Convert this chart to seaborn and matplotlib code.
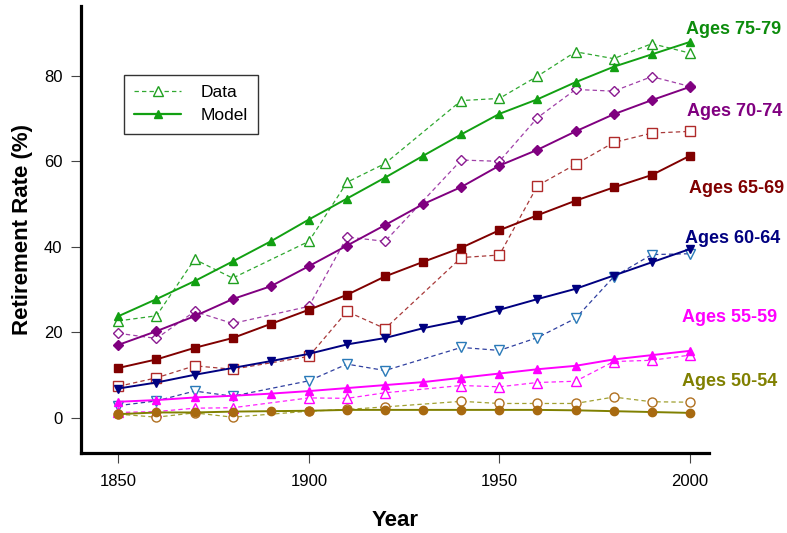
import matplotlib
matplotlib.use("Agg")
import matplotlib.pyplot as plt
from matplotlib.lines import Line2D
import seaborn as sns

# Census decades for the fitted model and years with observed data
years = [1850, 1860, 1870, 1880, 1890, 1900, 1910, 1920,
         1930, 1940, 1950, 1960, 1970, 1980, 1990, 2000]
data_years = [1850, 1860, 1870, 1880, 1900, 1910, 1920,
              1940, 1950, 1960, 1970, 1980, 1990, 2000]

# Retirement rate (%) by age group: model fit
model_75_79 = [23.8, 27.8, 32.0, 36.6, 41.3, 46.4, 51.3, 56.2, 61.3, 66.3, 71.1, 74.5, 78.5, 82.1, 85.0, 87.9]
model_70_74 = [17.1, 20.3, 23.8, 27.8, 30.8, 35.5, 40.3, 45.1, 50.0, 54.0, 59.0, 62.7, 67.0, 71.0, 74.3, 77.4]
model_65_69 = [11.7, 13.7, 16.4, 18.7, 22.0, 25.3, 28.8, 33.1, 36.5, 39.8, 43.9, 47.4, 50.8, 53.9, 56.8, 61.3]
model_60_64 = [6.9, 8.3, 10.1, 11.7, 13.3, 15.0, 17.2, 18.7, 21.0, 22.8, 25.3, 27.8, 30.2, 33.3, 36.4, 39.5]
model_55_59 = [3.8, 4.2, 4.8, 5.2, 5.7, 6.3, 7.0, 7.7, 8.4, 9.4, 10.4, 11.4, 12.2, 13.7, 14.7, 15.7]
model_50_54 = [0.9, 1.3, 1.3, 1.5, 1.6, 1.7, 1.9, 1.9, 1.9, 1.9, 1.9, 1.9, 1.8, 1.6, 1.4, 1.2]

# Retirement rate (%) by age group: observed data
data_75_79 = [22.7, 23.9, 37.1, 32.7, 41.3, 55.1, 59.5, 74.2, 74.7, 79.9, 85.6, 84.0, 87.5, 85.3]
data_70_74 = [19.8, 18.6, 24.9, 22.1, 26.1, 42.3, 41.3, 60.3, 60.0, 70.2, 76.8, 76.4, 79.8, 77.5]
data_65_69 = [7.4, 9.4, 12.2, 11.4, 14.4, 24.9, 20.9, 37.5, 38.1, 54.3, 59.3, 64.4, 66.6, 67.0]
data_60_64 = [2.9, 4.0, 6.3, 5.1, 8.7, 12.6, 11.1, 16.5, 15.8, 18.8, 23.3, 33.0, 38.2, 38.4]
data_55_59 = [1.3, 1.5, 2.3, 2.4, 4.7, 4.6, 5.9, 7.6, 7.3, 8.3, 8.6, 13.2, 13.5, 14.7]
data_50_54 = [0.9, 0.2, 1.2, 0.2, 1.6, 2.0, 2.6, 3.9, 3.4, 3.4, 3.4, 4.9, 3.8, 3.7]

group_labels = ["Ages 75-79", "Ages 70-74", "Ages 65-69",
                "Ages 60-64", "Ages 55-59", "Ages 50-54"]

sns.set_theme(style="ticks")
plt.rcParams["font.family"] = ["Liberation Sans", "DejaVu Sans"]
plt.rcParams["text.color"] = "black"
plt.rcParams["axes.labelcolor"] = "black"

# (model, data, marker, model line, model marker, data line, data marker, label colour, label pos)
series = [
    (model_75_79, data_75_79, "^", "#12a012", "#12a012", "#30a830", "#20a020", "#0c8c0c", (1998.9, 90.9)),
    (model_70_74, data_70_74, "D", "#800080", "#800080", "#a040a8", "#8a1a90", "#800080", (1999.3, 71.7)),
    (model_65_69, data_65_69, "s", "#800000", "#800000", "#a83a3a", "#b02a2a", "#800000", (1999.8, 53.7)),
    (model_60_64, data_60_64, "v", "#000080", "#000080", "#3040a0", "#2a7ab8", "#000080", (1998.6, 42.0)),
    (model_55_59, data_55_59, "^", "#ff00ff", "#ff00ff", "#ff20ff", "#ff00ff", "#ff00ff", (1998.0, 23.5)),
    (model_50_54, data_50_54, "o", "#808000", "#a86a10", "#a0a030", "#b07020", "#808000", (1998.0, 8.5)),
]

fig = plt.figure(figsize=(7.87, 5.33), dpi=100)
ax = fig.add_axes([0.1025, 0.1495, 0.7988, 0.8392])

for (model, data, mk, mline, mmark, dline, dmark, lcol, pos), label in zip(series, group_labels):
    msize = 5.0 if mk == "D" else 6.0
    sns.lineplot(x=data_years, y=data, ax=ax, color=dline, linewidth=0.9,
                 linestyle=(0, (3.5, 2.5)), marker=mk, markersize=msize + 0.5,
                 markerfacecolor="white", markeredgecolor=dmark,
                 markeredgewidth=1.0, zorder=2)
    sns.lineplot(x=years, y=model, ax=ax, color=mline, linewidth=1.4,
                 marker=mk, markersize=msize, markerfacecolor=mmark,
                 markeredgecolor=mmark, markeredgewidth=1.0, zorder=3)
    ax.text(pos[0], pos[1], label, color=lcol, fontsize=13, fontweight="bold",
            ha="left", va="center", clip_on=False)

ax.set_xlim(1840.1, 2005.1)
ax.set_ylim(-8.25, 96.3)
ax.set_xticks([1850, 1900, 1950, 2000])
ax.set_yticks([0, 20, 40, 60, 80])

for side in ("top", "right"):
    ax.spines[side].set_visible(False)
for side in ("left", "bottom"):
    ax.spines[side].set_linewidth(2.3)
    ax.spines[side].set_color("black")

ax.tick_params(axis="both", direction="out", length=7, width=0.8,
               color="#444444", labelsize=12, labelcolor="black")
ax.tick_params(axis="y", pad=6)
ax.tick_params(axis="x", pad=8)

ax.set_xlabel("Year", fontsize=16, fontweight="bold", labelpad=15)
ax.set_ylabel("Retirement Rate (%)", fontsize=16, fontweight="bold", labelpad=8)

handles = [
    Line2D([], [], color="#30a830", linewidth=0.9, linestyle=(0, (3.5, 2.5)),
           marker="^", markersize=6.5, markerfacecolor="white",
           markeredgecolor="#20a020", markeredgewidth=1.0),
    Line2D([], [], color="#12a012", linewidth=1.6, marker="^", markersize=6,
           markerfacecolor="#12a012", markeredgecolor="#12a012"),
]
leg = ax.legend(handles, ["Data", "Model"], loc="upper left",
                bbox_to_anchor=(0.069, 0.8465), borderaxespad=0,
                fontsize=12.5, frameon=True, fancybox=False, handlelength=2.7,
                handletextpad=1.1, labelspacing=0.45, borderpad=0.6)
leg.get_frame().set_edgecolor("black")
leg.get_frame().set_linewidth(1.0)

fig.savefig("out.png", dpi=100)
